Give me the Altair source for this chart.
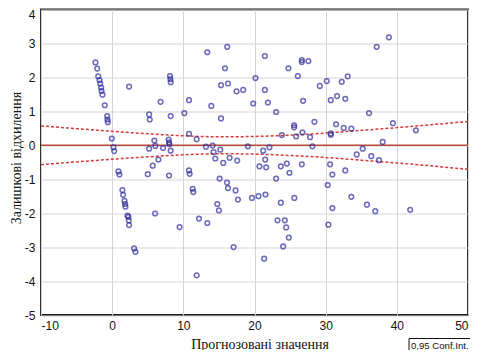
import altair as alt
import pandas as pd

# Residuals vs predicted values
res_x = [-2.34, -2.10, -1.96, -1.78, -1.68, -1.54, -1.50, -1.36, -1.04, -0.70, -0.66, -0.62,
         -0.05, 0.18, 0.28, 0.88, 1.02, 1.44, 1.54, 1.73, 1.82, 1.87, 2.15, 2.29, 2.33, 2.38,
         3.08, 3.27, 2.38, 5.19, 5.28, 6.80, 5.00, 5.19, 5.70, 5.93, 6.07, 6.50, 6.03,
         13.37, 16.17, 15.85, 15.29, 16.27, 17.48, 18.41, 13.93, 15.29, 10.80, 10.14,
         8.13, 8.18, 8.22, 8.22, 10.80, 11.87, 7.15, 7.94, 8.00, 8.04, 8.22, 7.99, 10.80, 10.89,
         13.18, 14.11, 14.25, 14.49, 15.19, 15.61, 16.50, 17.57, 15.10, 19.07,
         20.14, 21.46, 21.46, 21.88, 19.82, 23.04, 24.77, 26.09, 26.65, 26.65, 27.57, 26.83,
         29.17, 28.42, 25.57, 25.57, 23.84, 25.85, 26.73, 27.81, 28.13, 22.10, 21.22, 21.50,
         20.70, 21.64, 23.70, 24.54, 24.91, 26.65, 23.04,
         11.31, 11.40, 16.13, 16.27, 17.34, 17.67, 14.77, 15.00, 12.20, 13.37, 9.48, 17.06,
         11.87, 19.64, 20.56, 21.54, 23.70, 25.60, 23.23, 24.26, 24.45, 24.82, 24.03, 21.36,
         38.89, 37.17, 33.10, 32.26, 30.15, 30.72, 31.60, 32.76, 36.09, 31.46, 32.54, 33.61,
         30.72, 30.72, 39.45, 42.68, 38.01, 35.20, 34.36, 36.41, 37.49, 30.62, 30.94, 32.76,
         30.29, 33.61, 30.94, 35.80, 36.97, 41.88, 30.38]
res_y = [2.44, 2.26, 2.03, 1.92, 1.82, 1.70, 1.60, 1.49, 1.18, 0.86, 0.76, 0.68,
         0.20, -0.06, -0.17, -0.77, -0.86, -1.32, -1.46, -1.64, -1.73, -1.81, -2.07, -2.11, -2.21, -2.35,
         -3.04, -3.14, 1.73, 0.91, 0.76, 1.28, -0.85, -0.10, -0.60, 0.14, -0.02, -0.42, -2.01,
         2.74, 2.90, 2.27, 1.77, 1.82, 1.59, 1.63, 1.16, 0.79, 1.33, 0.95,
         2.04, 1.95, 1.86, 0.86, 0.34, 0.18, -0.08, 0.17, 0.09, 0.03, -0.16, -0.89, -0.74, -0.84,
         -0.04, -0.01, -0.20, -0.39, -0.13, -0.52, -0.37, -0.45, -0.98, -0.03,
         1.98, 2.63, 1.63, 1.26, 1.23, 0.98, 2.27, 2.04, 2.51, 2.45, 2.48, 1.31,
         1.75, 0.69, 0.59, 0.53, 0.30, 0.26, 0.38, 0.24, -0.03, -0.06, -0.16, -0.42,
         -0.62, -0.65, -0.62, -0.54, -0.81, -0.56, -0.98,
         -1.28, -1.38, -1.10, -1.26, -1.33, -1.60, -1.73, -1.92, -2.16, -2.29, -2.41, -3.00,
         -3.83, -1.55, -1.50, -1.45, -1.69, -1.55, -2.21, -2.21, -2.42, -2.72, -2.98, -3.34,
         3.18, 2.90, 2.03, 1.87, 1.89, 1.33, 1.45, 1.37, 0.95, 0.62, 0.51, 0.49,
         0.35, 0.31, 0.65, 0.44, 0.10, -0.10, -0.27, -0.32, -0.44, -0.56, -0.86, -0.74,
         -1.17, -1.52, -1.85, -1.75, -1.94, -1.90, -2.34]

# Confidence band (0.95)
ci_x = [-10, -5, 0, 5, 10, 15, 20, 25, 30, 35, 40, 45, 50]
ci_upper = [0.57, 0.49, 0.41, 0.34, 0.28, 0.25, 0.26, 0.30, 0.36, 0.44, 0.52, 0.61, 0.70]
ci_lower = [-0.57, -0.49, -0.41, -0.34, -0.28, -0.25, -0.26, -0.30, -0.36, -0.44, -0.52, -0.61, -0.71]

fit_x = [-10, 50]
fit_y = [0, 0]

x_ticks = [-10, 0, 10, 20, 30, 40, 50]
y_ticks = [-5, -4, -3, -2, -1, 0, 1, 2, 3, 4]

pts = pd.DataFrame({"x": res_x, "y": res_y})
n = len(ci_x)
ci = pd.DataFrame({"x": ci_x + ci_x, "y": ci_upper + ci_lower,
                   "band": ["upper"] * n + ["lower"] * n})
fit = pd.DataFrame({"x": fit_x, "y": fit_y})
legend_df = pd.DataFrame({"label": ["0,95 Conf.Int."]})

xs = alt.Scale(domain=[-10, 50], nice=False, zero=False)
ys = alt.Scale(domain=[-5, 4], nice=False, zero=False)

xaxis = alt.Axis(title="Прогнозовані значення", values=x_ticks, grid=True,
                 gridColor="#d4d4d4", gridWidth=1, ticks=False, domain=False,
                 labelFont="Liberation Sans", labelFontSize=12, labelColor="#111",
                 labelPadding=5, labelOverlap=False, labelExpr="'' + datum.value",
                 titleFont="Liberation Serif", titleFontSize=14,
                 titleFontWeight="normal", titleColor="#111",
                 titleX=218.5, titleY=33, titleBaseline="alphabetic", titleAlign="center")
yaxis = alt.Axis(title="Залишкові відхилення", values=y_ticks, grid=True,
                 gridColor="#d4d4d4", gridWidth=1, ticks=False, domain=False,
                 labelFont="Liberation Sans", labelFontSize=12, labelColor="#111",
                 labelPadding=6, labelOverlap=False, labelExpr="'' + datum.value",
                 labelOffset={"condition": {"test": "datum.value === 4", "value": 5}, "value": 0},
                 titleFont="Liberation Serif", titleFontSize=14,
                 titleFontWeight="normal", titleColor="#111",
                 titleX=-20.5, titleY=148, titleBaseline="alphabetic", titleAlign="center",
                 titleAngle=270)

zero_line = alt.Chart(fit).mark_line(color="#b9483c", strokeWidth=1.5).encode(
    x=alt.X("x:Q", scale=xs, axis=xaxis), y=alt.Y("y:Q", scale=ys, axis=yaxis))

band = alt.Chart(ci).mark_line(color="#d83a3a", strokeWidth=1.5, strokeDash=[3, 2],
                               interpolate="monotone").encode(
    x=alt.X("x:Q", scale=xs, axis=xaxis), y=alt.Y("y:Q", scale=ys, axis=yaxis),
    detail="band:N")

points = alt.Chart(pts).mark_point(shape="circle", filled=False, size=22,
                                   strokeWidth=1.5, color="#2d2d9c").encode(
    x=alt.X("x:Q", scale=xs, axis=xaxis),
    y=alt.Y("y:Q", scale=ys, axis=yaxis),
)

box = alt.Chart(legend_df).mark_rect(fill="white", stroke="#111", strokeWidth=1).encode(
    x=alt.value(368), x2=alt.value(445), y=alt.value(329), y2=alt.value(360))
box_text = alt.Chart(legend_df).mark_text(align="left", baseline="middle",
                                          font="Liberation Sans", fontSize=9.6,
                                          color="#111").encode(
    x=alt.value(370), y=alt.value(336.5), text="label:N")

chart = alt.layer(zero_line, band, points, box, box_text).properties(
    width=427, height=305.5,
    autosize=alt.AutoSizeParams(type="none"),
    padding={"left": 33, "top": 1.5, "right": 2, "bottom": 35},
    background="white",
).configure_view(stroke="#1a1a1a", strokeWidth=1.8
).configure_axis(labelOverlap=False)

chart.save("out.html", embed_options={"renderer": "svg", "actions": False})
